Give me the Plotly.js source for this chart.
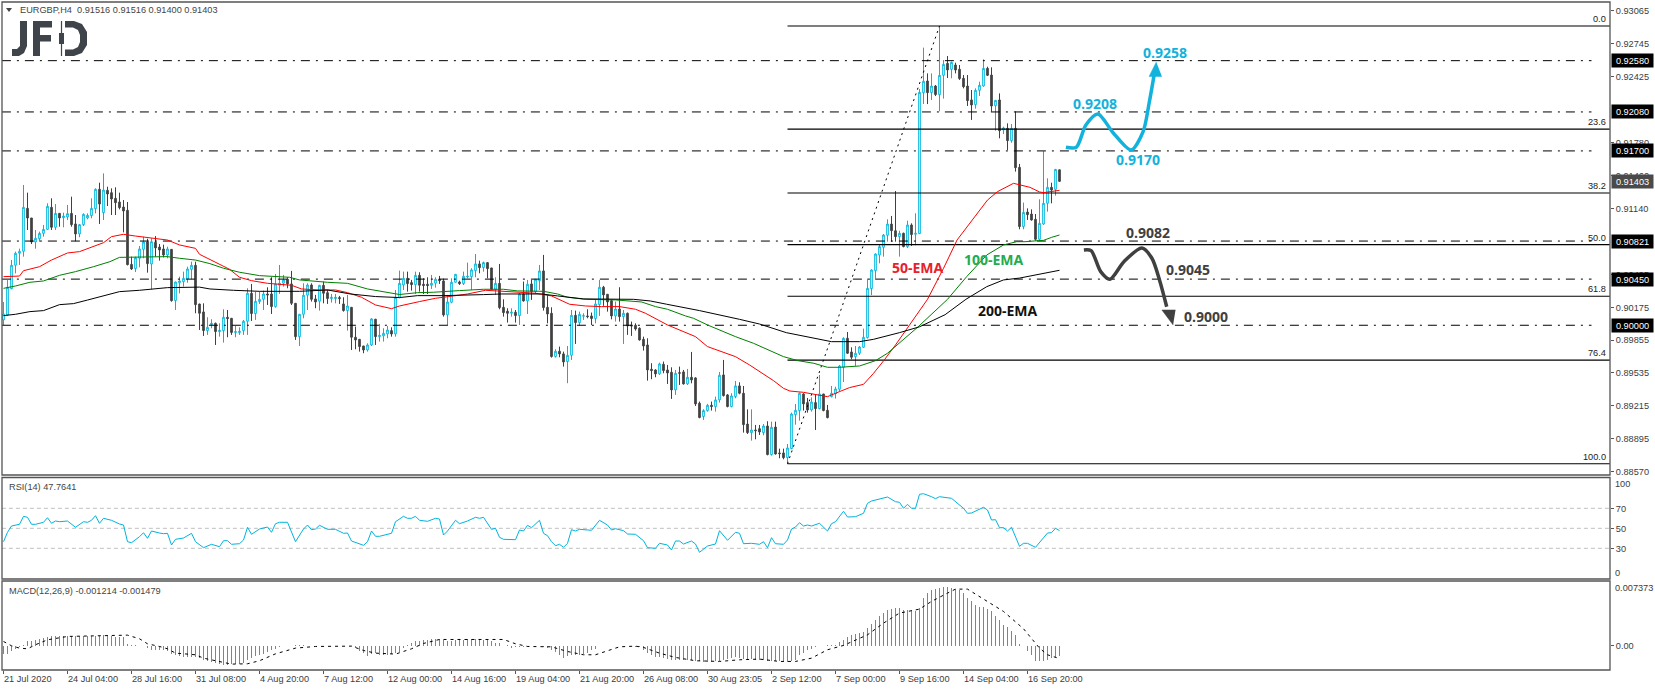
<!DOCTYPE html>
<html><head><meta charset="utf-8">
<script src="https://cdn.plot.ly/plotly-3.0.1.min.js"></script>
<style>html,body{margin:0;padding:0;background:#fff}#c{width:1655px;height:691px}</style>
</head><body><div id="c"></div>
<script>
// Prices are quoted in points (1 point = 0.00001), one value per 4-hour bar.
const barOpen=[90052,90100,90357,90585,90702,90721,91140,91046,90812,90844,
90896,90935,91150,90955,91091,91049,91056,91091,90988,90890,
90981,91046,91069,91137,91326,91098,91316,91293,91238,91202,
91153,91121,90594,90552,90653,90740,90812,90597,90809,90763,
90744,90685,90740,90240,90415,90425,90451,90545,90585,90207,
90130,89948,90006,90019,89938,89948,90078,90068,89929,89929,
89948,90039,90312,90114,90231,90253,90305,90305,90182,90390,
90410,90449,90403,90214,89889,90107,90293,90393,90257,90234,
90390,90318,90260,90260,90270,90208,90143,90175,89883,89863,
89798,89759,89808,90059,89889,89896,89915,89948,89915,90273,
90393,90458,90416,90396,90487,90400,90400,90390,90410,90449,
90432,90101,90224,90419,90422,90406,90471,90474,90533,90598,
90562,90611,90559,90351,90409,90175,90137,90117,90127,90094,
90305,90237,90403,90328,90435,90530,90175,90117,89695,89747,
89721,89646,89707,90097,90026,90088,90091,90091,90065,90201,
90371,90302,90240,90091,90159,90084,90117,90003,90000,89971,
89863,89808,89571,89564,89526,89620,89564,89542,89370,89538,
89545,89428,89493,89487,89240,89110,89168,89220,89207,89272,
89516,89321,89207,89305,89409,89337,89037,88953,88979,88992,
88953,89018,88739,89008,88755,88755,88709,88797,89128,89168,
89330,89246,89174,89246,89187,89330,89171,89304,89330,89376,
89590,89873,89740,89694,89727,89785,89880,90357,90533,90685,
90760,90877,90987,90922,90864,90897,90767,90978,90887,90893,
92268,92382,92268,92333,92249,92437,92554,92495,92538,92496,
92408,92333,92197,92151,92291,92333,92505,92440,92141,92197,
91904,91920,91800,91920,91540,90962,91104,91085,91033,90838,
90987,91189,91345,91325,91516];
const barHigh=[90227,90441,90636,90718,90747,91368,91293,91046,90929,90913,
90978,91189,91238,91182,91091,91098,91173,91254,91075,90988,
91091,91091,91238,91335,91390,91481,91351,91335,91345,91293,
91221,91202,90669,90669,90773,90864,90844,90848,90870,90792,
90786,90766,90740,90425,90474,90523,90571,90620,90620,90210,
90214,90078,90059,90026,90019,90156,90149,90068,89993,89980,
90052,90361,90403,90325,90328,90338,90370,90468,90500,90588,
90491,90468,90530,90214,90107,90409,90409,90409,90296,90393,
90426,90344,90305,90305,90286,90273,90296,90175,89987,89863,
89798,89824,90068,90062,90013,89971,89993,89980,90344,90533,
90523,90523,90442,90523,90517,90458,90468,90491,90468,90481,
90455,90296,90458,90497,90435,90523,90611,90556,90695,90630,
90621,90617,90559,90468,90598,90253,90166,90166,90149,90318,
90426,90442,90442,90449,90588,90686,90296,90175,89766,89792,
89743,89798,90149,90143,90133,90117,90156,90124,90247,90442,
90384,90305,90247,90231,90371,90149,90124,90036,90019,89980,
89889,89873,89630,89571,89636,89646,89613,89590,89564,89597,
89564,89574,89740,89493,89256,89181,89233,89256,89304,89545,
89662,89330,89337,89457,89444,89408,89180,89180,89028,89028,
89037,89064,89060,89060,88797,88797,88842,89148,89233,89343,
89337,89291,89297,89324,89515,89330,89223,89408,89401,89613,
89882,89934,89785,89798,89798,89967,90455,90545,90701,90789,
90890,91033,91066,91309,90922,90903,91020,90994,91092,92304,
92707,92456,92456,92343,92918,92586,92625,92570,92560,92538,
92440,92440,92294,92310,92375,92593,92521,92515,92193,92261,
91936,91969,91962,92086,91573,91196,91140,91130,91085,91228,
91696,91433,91390,91524,91516];
const barLow=[90003,90091,90351,90506,90588,90669,90929,90792,90747,90815,
90864,90929,90929,90929,90961,90955,91026,90961,90819,90858,
90968,91033,91043,91091,90988,91026,91163,91075,91075,91130,
90906,90584,90539,90519,90565,90653,90513,90351,90669,90630,
90662,90653,90230,90149,90311,90377,90415,90448,90117,89954,
89896,89906,89971,89808,89889,89831,89883,89906,89883,89906,
89906,89906,90042,90052,90208,90149,90198,90110,90172,90305,
90377,90361,90198,89857,89798,90068,90149,90231,90166,90143,
90214,90208,90221,90214,90208,90133,89948,89759,89766,89743,
89727,89743,89798,89808,89841,89841,89873,89889,89889,90263,
90344,90328,90338,90305,90328,90305,90305,90354,90367,90403,
90084,90000,90214,90419,90393,90393,90458,90344,90468,90507,
90523,90458,90344,90296,90156,90084,90026,90084,90026,90003,
90231,90110,90247,90305,90344,90143,90019,89685,89685,89688,
89597,89435,89662,89818,89997,90052,90068,90003,90019,90091,
90189,90133,90058,90036,90036,89818,89906,89896,89948,89850,
89753,89460,89474,89493,89516,89532,89428,89282,89321,89418,
89422,89418,89434,89213,89093,89077,89158,89168,89158,89246,
89305,89200,89200,89288,89327,88953,88940,88875,88888,88930,
88927,88732,88729,88739,88703,88693,88650,88791,89031,89070,
89168,89148,89158,88979,89180,89161,89093,89297,89285,89353,
89447,89720,89668,89603,89710,89778,89870,90295,90441,90604,
90669,90815,90815,90815,90669,90760,90753,90773,90780,90890,
92157,92157,92196,92235,92086,92210,92411,92408,92456,92392,
92310,92138,92002,92112,92235,92326,92430,92083,91897,91823,
91865,91709,91780,91498,90936,90936,91027,91020,90825,90825,
90978,91108,91189,91264,91400];
const barClose=[90110,90370,90585,90702,90721,91150,91046,90812,90848,90896,
90935,91160,90955,91091,91046,91065,91088,90981,90890,90981,
91082,91072,91140,91326,91182,91319,91280,91231,91195,91147,
91114,90591,90549,90659,90744,90812,90601,90815,90754,90734,
90685,90744,90240,90422,90432,90458,90549,90585,90201,90117,
89948,89980,90019,89938,89951,90078,90065,89929,89938,89941,
90039,90312,90114,90234,90253,90305,90296,90182,90403,90410,
90442,90403,90214,89889,90107,90293,90393,90253,90227,90390,
90312,90260,90273,90273,90260,90143,90188,89883,89857,89792,
89759,89808,90062,89889,89902,89922,89954,89915,90273,90409,
90458,90406,90396,90487,90390,90387,90387,90410,90449,90435,
90101,90227,90419,90497,90406,90478,90478,90540,90598,90562,
90611,90552,90351,90409,90172,90123,90117,90127,90094,90305,
90237,90400,90328,90449,90530,90172,90110,89695,89747,89721,
89642,89707,90097,90026,90107,90094,90084,90065,90208,90371,
90296,90227,90091,90159,90084,90117,89993,89993,89964,89857,
89798,89564,89558,89526,89623,89558,89535,89370,89532,89532,
89428,89493,89467,89233,89100,89168,89220,89207,89272,89513,
89314,89207,89311,89409,89337,89031,88953,88979,88972,88960,
89018,88739,89005,88745,88748,88709,88804,89135,89171,89337,
89233,89174,89252,89187,89330,89168,89099,89337,89379,89603,
89873,89727,89688,89727,89788,89883,90360,90539,90695,90767,
90880,90987,90922,90864,90897,90767,90978,90884,90897,92271,
92379,92268,92333,92249,92437,92544,92489,92564,92489,92405,
92326,92190,92148,92291,92340,92505,92437,92138,92193,91897,
91924,91800,91920,91537,90962,91101,91078,91027,90838,90994,
91189,91345,91319,91520,91403];

const ema50Bars=[0,4,5,7,9,12,16,19,22,25,27,30,33,37,41,44,48,49,51,54,56.5,59,62,66,72,74.5,79,83,86,89.5,93,97,99,104,108,112.5,116,120.5,124.5,129,133,137,141.5,145.5,149.5,154,158,160.5,166,173,176,180,183,186.5,189,192.5,195,196.6,200,202,206,209,211.5,215,217.5,220,223,231,235,238.4,241,246,248.5,252.5,256.6,259,260,262,264];
const ema50=[90474,90480,90532,90555,90571,90636,90705,90718,90760,90805,90864,90887,90870,90848,90831,90783,90750,90692,90653,90588,90546,90468,90435,90409,90390,90354,90344,90344,90318,90273,90198,90162,90188,90231,90263,90286,90305,90341,90335,90322,90312,90286,90205,90188,90182,90182,90156,90117,90003,89889,89792,89733,89694,89613,89548,89460,89385,89359,89346,89330,89304,89353,89392,89424,89531,89652,89808,90253,90555,90832,90962,91221,91303,91384,91345,91300,91293,91303,91316];
const ema100Bars=[0,3,6.6,10,14,18,22.5,26.6,29,34,41,44,48,51.6,55,59,64,71.5,74,81,86,91,96,99,103.5,107.5,114,120,125,128.5,135,138.5,141,145.5,153,159.5,163,166,170.5,172.5,176,183,187.5,191,195,198.6,202.6,206,209,214,218,221,224,228.6,236,240.8,245.8,250,253.3,255.4,258.7,260,262,264];
const ema100=[90360,90383,90419,90432,90487,90523,90571,90620,90662,90662,90669,90653,90636,90601,90556,90517,90484,90468,90442,90419,90409,90354,90318,90300,90318,90322,90338,90351,90351,90335,90331,90305,90273,90253,90247,90227,90182,90156,90091,90068,90003,89889,89824,89766,89694,89655,89629,89590,89590,89603,89655,89727,89830,89983,90253,90474,90685,90783,90815,90815,90825,90828,90857,90880];
const ema200Bars=[0,3,6.6,10,14,17.5,21,25,29,34,41,49,51.6,57.5,64,74,81,86.7,93,99,103.5,110,116,120,124.5,134.5,138.5,145,157.5,161.7,165.8,174,184,189,195.7,200.7,207,214,217.5,224,229,235.4,240.6,245.8,250,254,256.6,259,264];
const ema200=[90094,90107,90133,90143,90201,90211,90246,90285,90328,90341,90367,90372,90354,90341,90331,90331,90344,90305,90280,90270,90289,90289,90292,90299,90305,90305,90286,90257,90253,90237,90205,90143,90058,90012,89928,89889,89840,89840,89863,89928,89985,90103,90253,90376,90442,90460,90480,90497,90536];

const fibStartBar=196, fibEndBar=401.6, fibHighBar=234;
const fibLabels=["0.0","23.6","38.2","50.0","61.8","76.4","100.0"];
const fibPrices=[92918,91912,91289,90786,90283,89660,88650];
const levelPrices=[92580,92080,91700,90821,90450,90000];
const levelTexts=["0.92580","0.92080","0.91700","0.90821","0.90450","0.90000"];
const lastPrice=91403, lastPriceText="0.91403";

const priceTicks=[93065,92745,92425,91780,91460,91140,90495,90175,89855,89535,89215,88895,88570];
const priceTickText=["0.93065","0.92745","0.92425","0.91780","0.91460","0.91140","0.90495","0.90175","0.89855","0.89535","0.89215","0.88895","0.88570"];
const timeTickBars=[0,16,32,48,64,80,96,112,128,144,160,176,192,208,224,240,256];
const timeTickText=["21 Jul 2020","24 Jul 04:00","28 Jul 16:00","31 Jul 08:00","4 Aug 20:00","7 Aug 12:00","12 Aug 00:00","14 Aug 16:00","19 Aug 04:00","21 Aug 20:00","26 Aug 08:00","30 Aug 23:05","2 Sep 12:00","7 Sep 00:00","9 Sep 16:00","14 Sep 04:00","16 Sep 20:00"];

const rsiBars=[0,1,2,4,5,6,7,8,10,11,12,13,14,16,18,20,21,22,23,24,25,27,29,30,31,32,34,35,36,37,39,40,41,42,43,45,47,48,50,52,54,55,56,57,59,60,61,62,64,66,67,68,69,71,73,75,76,77,78,79,81,83,85,86,87,90,91,92,93,94,97,98,100,101,102,103,104,106,108,109,110,111,113,114,116,118,119,120,122,123,124,125,128,129,130,131,132,134,135,136,137,138,139,140,141,142,143,144,147,149,151,152,153,155,156,158,160,161,163,164,166,167,168,169,170,172,173,174,176,178,179,181,183,184,185,187,189,190,191,192,193,195,196,197,198,199,200,201,202,204,206,207,208,210,211,213,215,216,217,219,221,223,224,225,226,227,228,229,230,232,233,234,237,240,241,242,245,246,247,248,249,250,251,252,254,255,256,258,260,261,262,263,264];
const rsiVals=[36.6,46,52.3,54,62,61,54,54,56,60.6,55,57.3,56.6,57.3,51,56.6,56,58,62.6,55,60,58,54.3,53.3,36.6,35.6,41.6,45.6,40,47.3,45.3,44.6,45,33.3,39,40.3,45,36.6,30.6,34,31.6,37.6,37.6,34,34.6,38.3,51,44,49.3,51.3,46,54.6,56,56,36.6,49.3,53.3,48.6,49.3,53,49,49,45,45.3,37.3,33,36.6,47.3,42,42,45,56.6,62,60,60,62,58,57,60,59.3,43.3,47.3,58,54.6,57.3,61,60,61,49,50,41,39,38.6,48.3,47.3,53,50.6,58,45,42.6,36.6,32.6,34,31,35,48.6,47.3,49,48,58,53.3,48.3,49.6,47.6,44.3,44,37.6,30.6,30,35,33.3,28.3,37.3,37.3,34.3,37.3,34.3,26,32.3,34.3,47.6,38,46,45,34.6,35,34,36.6,30.6,40.6,34.6,34,38.3,49.3,51.3,55.6,52.3,53.3,52.3,55,47.3,54.6,56.6,67,61.3,61.6,65,75,77.3,79.3,81.3,76.6,76,70,74,70,70,84,84.6,81.6,79.6,81.6,80,70,65,65.3,71,68.3,58.3,58.6,50.6,50.6,47.3,51,32,35,35,31,40,45.3,45.6,50,47.76];
const rsiLevels=[70,50,30];

// MACD values in units of 0.00001
const macdHist=[-93,-93,-66,-35,-15,8,50,58,62,77,89,100,108,112,116,112,112,108,108,108,
108,108,108,112,116,120,120,112,104,96,96,19,8,4,0,-4,-27,-46,-54,-54,
-50,-66,-96,-112,-123,-127,-127,-131,-135,-143,-162,-181,-189,-200,-208,-220,-220,-216,-212,-208,
-204,-162,-143,-123,-104,-96,-73,-46,-35,-15,-8,0,-4,8,8,4,0,-4,-4,-4,
-4,-4,0,0,-4,-4,-4,-4,-27,-66,-85,-116,-96,-89,-104,-112,-104,-96,-85,-73,
-27,12,27,50,58,66,69,77,81,81,66,58,58,62,66,66,77,81,81,77,
69,73,58,27,31,-8,12,-27,-12,-19,-15,-12,-8,-4,0,-12,-27,-46,-73,-104,
-143,-123,-112,-112,-104,-96,-89,-46,-35,-8,0,-4,0,0,0,0,-4,-8,-12,-19,
-46,-85,-112,-127,-135,-143,-150,-162,-162,-162,-166,-166,-170,-173,-181,-185,-185,-185,-181,-181,
-162,-150,-143,-135,-143,-150,-154,-154,-162,-162,-166,-181,-173,-181,-181,-181,-189,-181,-162,-104,
-85,-46,-35,-19,-4,0,4,8,8,39,69,100,120,135,143,158,204,251,301,347,
378,416,428,432,432,416,409,412,397,436,551,609,640,659,667,678,675,667,659,644,
609,551,513,474,451,443,428,397,347,297,243,212,173,120,23,0,-66,-112,-173,-181,
-173,-162,-143,-127,-121];
const signalBars=[0,2,4,6,8,11,16,21,28,31,34,36,39,41,43,48,50,54,57,61,64,68,73,78,87,90,93,98,102,105,109,117,125,128,131,137,141,145,148,151,154,158,160,164,168,173,179,184,189,194,198,202,206,210,216,220,224,229,232,236,238,241,244,250,255,259,261,264];
const signalVals=[50,0,-27,-35,12,69,108,112,120,123,81,23,-8,-35,-85,-104,-143,-181,-212,-208,-173,-93,-27,-8,-4,-54,-85,-96,-35,27,73,73,73,23,-8,-12,-66,-104,-104,-58,-12,-4,-19,-85,-135,-173,-181,-162,-154,-181,-181,-143,-46,4,127,262,378,424,513,609,655,655,571,397,197,-27,-104,-148];

// Drawn scenario paths: bar position and price in points
const upPathBars=[265.6,268.2,270.6,273.6,277.5,281.9,284.9,286.4,287.8];
const upPathVals=[91736,91736,91953,92060,91872,91709,91888,92165,92473];
const upHeadBars=[288.2,286.4,289.6];
const upHeadVals=[92567,92426,92426];
const downPathBars=[270.1,271.9,274.3,276.6,280.1,284.6,287.1,289,290.8];
const downPathVals=[90734,90727,90523,90449,90620,90754,90653,90442,90181];
const downHeadBars=[292.4,289.6,293];
const downHeadVals=[90003,90149,90149];

const P=a=>a.map(v=>v/1e5);
const M=a=>a.map(v=>v/1e5);
const bars=barOpen.map((_,i)=>i);
const BLUE='#00b4dc', DARK='#404040', FONT='"Liberation Sans", Arial, sans-serif';
const SMALL=9.2;
const L=2,R=1610,T=2,B=670;
const xp=p=>(p-L)/(R-L), yp=p=>(B-p)/(B-T);
const poly=pts=>'M'+pts.map(q=>xp(q[0]).toFixed(5)+','+yp(q[1]).toFixed(5)).join('L')+'Z';

const traces=[];
levelPrices.forEach(v=>traces.push({x:[-0.4,397],y:[v/1e5,v/1e5],type:'scatter',mode:'lines',line:{color:'#000',width:1,dash:'9px,6px,2px,6px'},hoverinfo:'skip',showlegend:false}));
fibPrices.forEach(v=>traces.push({x:[fibStartBar,fibEndBar],y:[v/1e5,v/1e5],type:'scatter',mode:'lines',line:{color:'#000',width:1.1},hoverinfo:'skip',showlegend:false}));
traces.push({x:[fibStartBar,fibHighBar],y:[fibPrices[6]/1e5,fibPrices[0]/1e5],type:'scatter',mode:'lines',line:{color:'#000',width:1,dash:'2px,4px'},hoverinfo:'skip',showlegend:false});
traces.push({type:'candlestick',x:bars,open:P(barOpen),high:P(barHigh),low:P(barLow),close:P(barClose),
 increasing:{line:{color:BLUE,width:1},fillcolor:'#ffffff'},decreasing:{line:{color:DARK,width:1},fillcolor:DARK},whiskerwidth:0,hoverinfo:'skip',showlegend:false});
[[ema50Bars,ema50,'#ff0000'],[ema100Bars,ema100,'#008000'],[ema200Bars,ema200,'#000000']].forEach(e=>traces.push({x:e[0],y:P(e[1]),type:'scatter',mode:'lines',line:{color:e[2],width:1},hoverinfo:'skip',showlegend:false}));
traces.push({x:upPathBars,y:P(upPathVals),type:'scatter',mode:'lines',line:{color:'#12b2dc',width:3.5,shape:'spline',smoothing:0.8},hoverinfo:'skip',showlegend:false});
traces.push({x:upHeadBars,y:P(upHeadVals),type:'scatter',mode:'lines',fill:'toself',fillcolor:'#12b2dc',line:{color:'#12b2dc',width:0.5},hoverinfo:'skip',showlegend:false});
traces.push({x:downPathBars,y:P(downPathVals),type:'scatter',mode:'lines',line:{color:DARK,width:3.5,shape:'spline',smoothing:0.8},hoverinfo:'skip',showlegend:false});
traces.push({x:downHeadBars,y:P(downHeadVals),type:'scatter',mode:'lines',fill:'toself',fillcolor:DARK,line:{color:DARK,width:0.5},hoverinfo:'skip',showlegend:false});
rsiLevels.forEach(v=>traces.push({x:[-0.4,401.6],y:[v,v],yaxis:'y2',type:'scatter',mode:'lines',line:{color:'#c0c0c0',width:1,dash:'4px,3px'},hoverinfo:'skip',showlegend:false}));
traces.push({x:rsiBars,y:rsiVals,yaxis:'y2',type:'scatter',mode:'lines',line:{color:BLUE,width:1},hoverinfo:'skip',showlegend:false});
traces.push({x:bars,y:M(macdHist),yaxis:'y3',type:'bar',width:0.3,marker:{color:BLUE,line:{width:0}},hoverinfo:'skip',showlegend:false});
traces.push({x:signalBars,y:M(signalVals),yaxis:'y3',type:'scatter',mode:'lines',line:{color:'#000',width:1,dash:'3px,4px'},hoverinfo:'skip',showlegend:false});

const TICK='#3c3c3c';
const ann=[];
const txt=(x,y,text)=>ann.push({xref:'paper',yref:'paper',x:xp(x),y:yp(y),text,showarrow:false,xanchor:'left',yanchor:'middle',font:{family:FONT,size:SMALL,color:'#444'}});
txt(18,10.5,'EURGBP,H4&nbsp;&nbsp;0.91516 0.91516 0.91400 0.91403');
txt(7,486.5,'RSI(14) 47.7641');
txt(7,590.5,'MACD(12,26,9) -0.001214 -0.001479');
// Fibonacci level captions
fibLabels.forEach((t,i)=>ann.push({xref:'paper',yref:'y',x:xp(1608),y:fibPrices[i]/1e5,text:t,showarrow:false,xanchor:'right',yanchor:'bottom',font:{family:FONT,size:SMALL,color:'#222'}}));
// Level value boxes on the price scale
levelPrices.forEach((v,i)=>ann.push({xref:'paper',yref:'y',x:xp(1611),y:v/1e5,text:levelTexts[i],showarrow:false,xanchor:'left',yanchor:'middle',bgcolor:'#000',borderpad:1,width:39,height:11,font:{family:FONT,size:SMALL,color:'#fff'}}));
ann.push({xref:'paper',yref:'y',x:xp(1611),y:lastPrice/1e5,text:lastPriceText,showarrow:false,xanchor:'left',yanchor:'middle',bgcolor:'#4a4a4a',borderpad:1,width:39,height:11,font:{family:FONT,size:SMALL,color:'#fff'}});
// Scale ends on the indicator panes
[['y2',100,'100',-6,1613],['y2',0,'0',5,1613],['y3',0.007373,'0.007373',-6,1613],['y3',-0.002803,'-0.002803',7,1613]].forEach(a=>ann.push({xref:'paper',yref:a[0],x:xp(a[4]),y:a[1],text:a[2],yshift:a[3],showarrow:false,xanchor:'left',yanchor:'middle',font:{family:FONT,size:SMALL,color:TICK}}));
// Chart call-outs
const call=(bar,px,text,color)=>ann.push({xref:'x',yref:'y',x:bar,y:px/1e5,text:'<b>'+text+'</b>',showarrow:false,xanchor:'center',yanchor:'middle',font:{family:'"Open Sans", "Liberation Sans", sans-serif',size:14,color}});
call(290.4,92655,'0.9258','#12b2dc');call(272.9,92167,'0.9208','#12b2dc');call(283.5,91621,'0.9170','#12b2dc');
call(286.1,90900,'0.9082',DARK);call(296.1,90539,'0.9045',DARK);call(300.6,90081,'0.9000',DARK);
call(228.5,90559,'50-EMA','#e8202e');call(247.7,90637,'100-EMA','#22ab4f');call(251,90144,'200-EMA','#111');

const frame=(yref)=>({type:'rect',xref:'paper',yref,x0:0,x1:1,y0:0,y1:1,line:{color:'#555',width:1.3},fillcolor:'rgba(0,0,0,0)'});
const logo='#3f444a';
const shapes=[frame('y domain'),frame('y2 domain'),frame('y3 domain'),
 {type:'path',xref:'paper',yref:'paper',path:poly([[6,8],[12,8],[9,12]]),fillcolor:'#444',line:{width:0}},
 {type:'path',xref:'paper',yref:'paper',path:poly([[20,21],[27,21],[27,46],[24,53],[19,56],[12,56],[12,49],[17,49],[20,46]]),fillcolor:logo,line:{width:0}},
 {type:'path',xref:'paper',yref:'paper',path:poly([[33,21],[52,21],[52,27.5],[40,27.5],[40,35],[51,35],[51,41.5],[40,41.5],[40,56],[33,56]]),fillcolor:logo,line:{width:0}},
 {type:'path',xref:'paper',yref:'paper',path:poly([[65,21],[74,21],[82,24],[87,32],[87,45],[82,53],[74,56],[65,56],[65,49.5],[73,49.5],[78,47],[80,42],[80,35],[78,30],[73,27.5],[65,27.5]]),fillcolor:logo,line:{width:0}},
 {type:'path',xref:'paper',yref:'paper',path:poly([[60.9,21],[62.1,21],[62.1,56],[60.9,56]]),fillcolor:logo,line:{width:0}},
 {type:'path',xref:'paper',yref:'paper',path:poly([[59,33],[64,33],[64,44],[59,44]]),fillcolor:logo,line:{width:0}}
];

const yAx=(domain,range,vals,text)=>({domain,range,side:'right',anchor:'x',showgrid:false,zeroline:false,showline:false,tickmode:'array',tickvals:vals,ticktext:text,ticks:'outside',ticklen:3,tickcolor:'#555',tickwidth:1,tickfont:{family:FONT,size:SMALL,color:TICK},fixedrange:true});
const layout={width:1655,height:691,margin:{l:L,r:1655-R,t:T,b:691-B,pad:0},paper_bgcolor:'#fff',plot_bgcolor:'#fff',showlegend:false,boxgap:0.42,bargap:0,dragmode:false,hovermode:false,
 xaxis:{anchor:'y3',range:[-0.375,401.625],showgrid:false,zeroline:false,showline:false,rangeslider:{visible:false},tickmode:'array',tickvals:timeTickBars,ticktext:timeTickText,tickangle:0,ticks:'outside',ticklen:3,tickcolor:'#555',ticklabelposition:'outside right',tickfont:{family:FONT,size:SMALL,color:TICK},fixedrange:true},
 yaxis:yAx([(B-475)/(B-T),1],[0.88540,0.93152],P(priceTicks),priceTickText),
 yaxis2:yAx([(B-579)/(B-T),(B-477.5)/(B-T)],[-0.7,100.8],rsiLevels,rsiLevels.map(String)),
 yaxis3:yAx([0,(B-581)/(B-T)],[-0.0028,0.00749],[0],['0.00']),
 annotations:ann,shapes};
Plotly.newPlot('c',traces,layout,{staticPlot:true,displayModeBar:false});
</script></body></html>
